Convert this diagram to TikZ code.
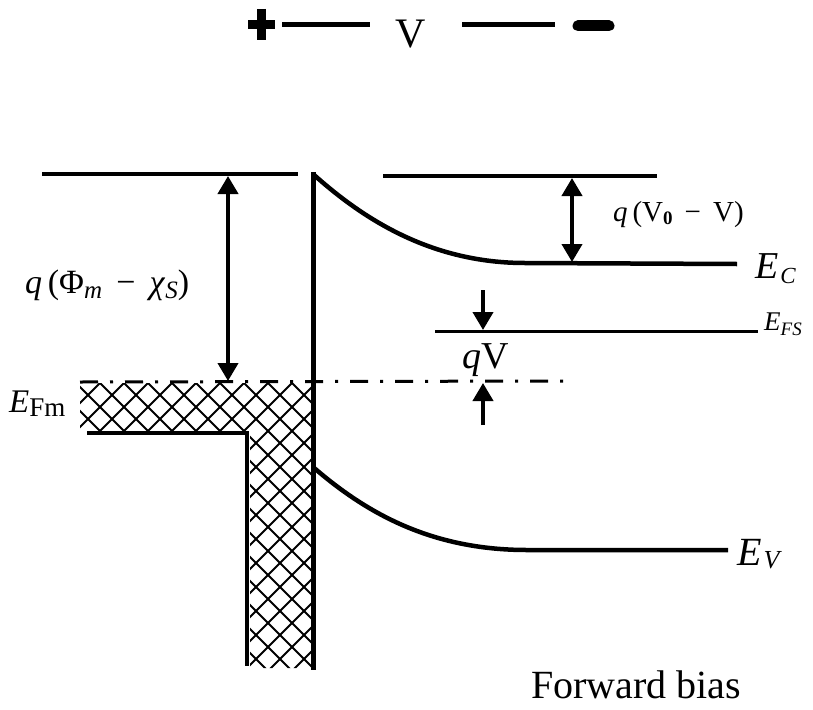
\documentclass[tikz,border=0pt]{standalone}
\usepackage{fontspec}
\setmainfont{Liberation Serif}
\usetikzlibrary{arrows.meta}
\newcommand\fs[1]{\fontsize{#1}{#1}\selectfont}
\tikzset{
  band/.style={line width=4.5pt},
  thinband/.style={line width=3pt},
  dimarrow/.style={line width=4pt,{Triangle[width=20pt,length=18pt]}-{Triangle[width=20pt,length=18pt]}},
  onearrow/.style={line width=4pt,-{Triangle[width=20pt,length=18pt]}},
  dashdot/.style={line width=3pt,dash pattern=on 18pt off 12pt on 3pt off 12pt},
  hatchline/.style={line width=1.8pt},
  lbl/.style={inner sep=0pt,anchor=base west},
}
\begin{document}
\begin{tikzpicture}[x=1pt,y=-1pt]
\useasboundingbox (0,0) rectangle (813,709);
% battery / bias symbol
\draw[line width=9pt] (248,25) -- (275,25);
\draw[line width=9pt] (261,9) -- (261,40);
\coordinate (l1a) at (282,25); \coordinate (l1b) at (370,25);
\draw[line width=5pt] (l1a) -- (l1b);
\node[inner sep=0pt,anchor=base] (vbias) at (411,48) {\fs{42}V};
\coordinate (l2a) at (462,25); \coordinate (l2b) at (555,25);
\draw[line width=5pt] (l2a) -- (l2b);
\draw[line width=11pt,line cap=round] (578,26) -- (609,26);

% hatched metal region
\begin{scope}
\clip (80,383) -- (313,383) -- (313,668) -- (250,668) -- (250,431) -- (80,431) -- cycle;
\foreach \c in {-716,-692,...,1000} {
  \draw[hatchline] (\c,383) -- ++(400,400);
  \draw[hatchline] (\c,383) -- ++(-400,400);
}
\end{scope}

% metal
\coordinate (vacl) at (42,174); \coordinate (vacr) at (298,174);
\draw[band] (vacl) -- (vacr);
\coordinate (ml1) at (87,433); \coordinate (ml2) at (247,433); \coordinate (ml3) at (247,666);
\draw[line width=4pt] (ml1) -- (ml2) -- (ml3);

% interface
\coordinate (itop) at (313,172); \coordinate (ibot) at (313,670);
\draw[line width=5pt] (itop) -- (ibot);

% conduction band
\coordinate (ec0) at (313,174); \coordinate (ec1) at (525,263); \coordinate (ec2) at (737,264);
\draw[band] (ec0) .. controls (362,218) and (430,263) .. (ec1) -- (ec2);
% semiconductor vacuum level
\coordinate (svl) at (383,176); \coordinate (svr) at (657,176);
\draw[band] (svl) -- (svr);
% valence band
\coordinate (ev0) at (313,467); \coordinate (ev1) at (527,550); \coordinate (ev2) at (728,550);
\draw[band] (ev0) .. controls (365,512) and (430,550) .. (ev1) -- (ev2);
% Fermi levels
\coordinate (efsl) at (435,331); \coordinate (efsr) at (758,331);
\draw[thinband] (efsl) -- (efsr);
\coordinate (efml) at (80,382); \coordinate (efmr) at (567,381);
\draw[dashdot] (efml) -- (efmr);

% dimension arrows
\coordinate (a1t) at (228,176); \coordinate (a1b) at (228,381);
\draw[dimarrow] (a1t) -- (a1b);
\coordinate (a2t) at (572,178); \coordinate (a2b) at (572,262);
\draw[dimarrow] (a2t) -- (a2b);
\coordinate (a3s) at (483,290); \coordinate (a3e) at (483,330);
\draw[onearrow] (a3s) -- (a3e);
\coordinate (a4s) at (483,425); \coordinate (a4e) at (483,383);
\draw[onearrow] (a4s) -- (a4e);

% labels
\node[lbl] (lphi) at (25,293) {\fs{34}\textit{q}\,(Φ\raisebox{-5pt}{\fs{25}\textit{m}}\, − \,\textit{χ}\raisebox{-5pt}{\fs{25}\textit{S}})};
\node[lbl] (lv0) at (613,221) {\fs{29}\textit{q}\,(V\raisebox{-3pt}{\fs{19}\textbf{0}}\, − \,V)};
\node[lbl] (lec) at (755,278) {\fs{38}\textit{E}\hspace{2pt}\raisebox{-5pt}{\fs{23}\textit{C}}};
\node[lbl] (lefs) at (764,330) {\fs{27}\textit{E}\raisebox{-5pt}{\fs{19}\textit{FS}}};
\node[lbl] (lqv) at (462,368) {\fs{38}\textit{q}V};
\node[lbl] (lefm) at (9,412) {\fs{33}\textit{E}\raisebox{-4pt}{\fs{27}Fm}};
\node[lbl] (lev) at (737,565) {\fs{40}\textit{E}\hspace{2pt}\raisebox{-3pt}{\fs{26}\textit{V}}};
\node[lbl] (lfb) at (531,698) {\fs{40}Forward bias};
\end{tikzpicture}
\end{document}
